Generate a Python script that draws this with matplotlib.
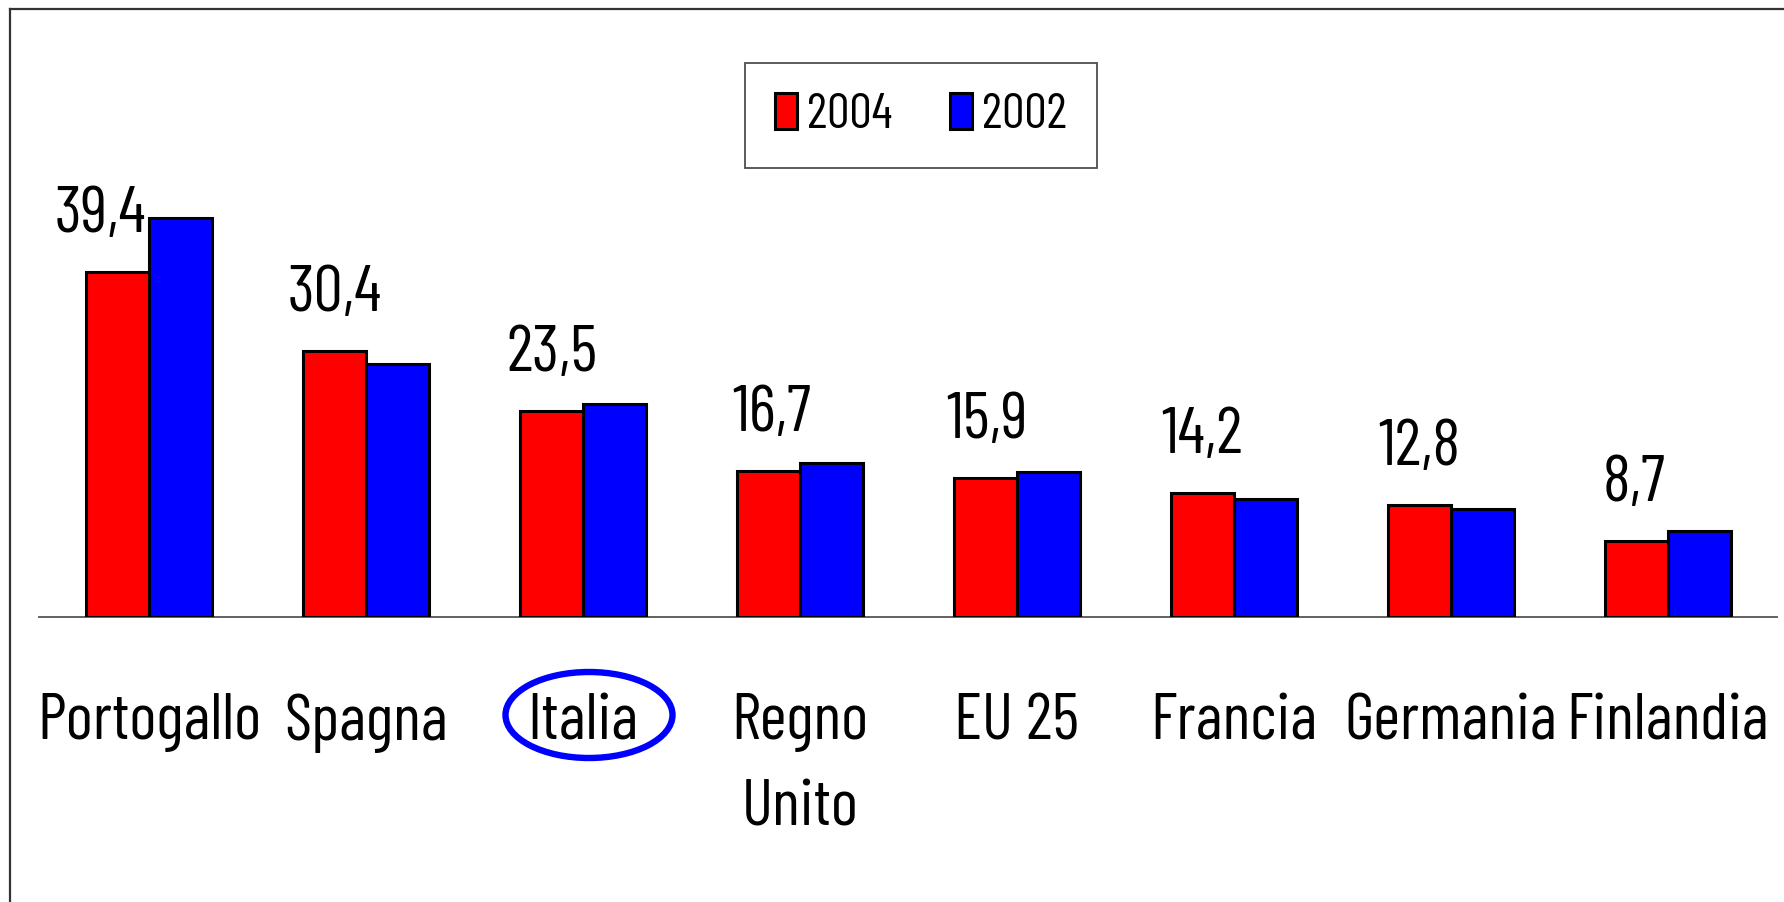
import matplotlib
matplotlib.use("Agg")
import matplotlib.pyplot as plt
from matplotlib.patches import Ellipse
from matplotlib.lines import Line2D
from matplotlib.transforms import blended_transform_factory
import numpy as np

categories = ["Portogallo", "Spagna", "Italia", "Regno\nUnito", "EU 25",
              "Francia", "Germania", "Finlandia"]
values_2004 = [39.4, 30.4, 23.5, 16.7, 15.9, 14.2, 12.8, 8.7]
values_2002 = [45.6, 28.9, 24.3, 17.6, 16.6, 13.5, 12.4, 9.8]
value_labels = ["39,4", "30,4", "23,5", "16,7", "15,9", "14,2", "12,8", "8,7"]
series_names = ["2004", "2002"]
highlight = "Italia"

plt.rcParams['font.family'] = ['Barlow Condensed', 'DejaVu Sans']

W, H = 1784, 902
fig = plt.figure(figsize=(W / 100, H / 100), dpi=100)

# axes: x from px 39 to 1777, baseline at y=617 px (from top), 8.75 px/unit
ax_left, ax_right = 39, 1777
base_y = 617
ymax = 60
ax_h = ymax * 8.75
ax = fig.add_axes([ax_left / W, (H - base_y) / H, (ax_right - ax_left) / W, ax_h / H])
ax.set_ylim(0, ymax)
unit = 217.0
xmin = -(149 - ax_left) / unit
xmax = xmin + (ax_right - ax_left) / unit
ax.set_xlim(xmin, xmax)

x = np.arange(len(categories))
bw = 63 / unit
lw = 2.2
b1 = ax.bar(x - bw / 2, values_2004, bw, color="#FF0000", edgecolor="black",
            linewidth=lw, label=series_names[0], zorder=3)
b2 = ax.bar(x + bw / 2, values_2002, bw, color="#0000FF", edgecolor="black",
            linewidth=lw, label=series_names[1], zorder=3)

for s in ["top", "right", "left"]:
    ax.spines[s].set_visible(False)
ax.spines["bottom"].set_color("#555555")
ax.spines["bottom"].set_linewidth(1.3)
ax.set_yticks([])
ax.set_xticks([])

fs = 47
label_dx = [-17, 0, 0, 3, 2, 0, 0, -2]  # px offsets
for i, (v, lab) in enumerate(zip(values_2004, value_labels)):
    ax.annotate(lab, xy=(x[i] - bw / 2, v), xytext=(label_dx[i] * 0.72, 40 * 0.72),
                textcoords="offset points", ha="center", va="baseline",
                fontsize=fs, color="black")

em_px = fs * 100 / 72
top_y = 742 - 0.75 * em_px
trans = blended_transform_factory(ax.transData, fig.transFigure)
for i, c in enumerate(categories):
    ax.text(x[i], (H - top_y) / H, c, transform=trans, ha="center", va="top",
            fontsize=fs, linespacing=1.6, color="black", clip_on=False)

# ellipse around highlighted category
hi = categories.index(highlight)
cx_disp = ax.transData.transform((x[hi], 0))[0]
cx = cx_disp / W + 6 / W
ell = Ellipse((cx, (H - 715) / H), 167 / W, 86 / H, transform=fig.transFigure,
              fill=False, edgecolor="#0000FF", linewidth=4.6, clip_on=False)
fig.add_artist(ell)

leg = fig.legend(handles=[b1, b2], labels=series_names, ncol=2,
                 loc="center", bbox_to_anchor=(921 / W, (H - 115.5) / H),
                 bbox_transform=fig.transFigure, fontsize=36, frameon=True,
                 fancybox=False, shadow=False, handlelength=0.44, handleheight=0.75,
                 handletextpad=0.2, columnspacing=1.15, borderpad=0.6,
                 borderaxespad=0)
leg.get_frame().set_edgecolor("#222222")
leg.get_frame().set_linewidth(1.3)

# outer frame (top and left only visible)
fig.add_artist(Line2D([10 / W, 1.0], [(H - 9) / H, (H - 9) / H], transform=fig.transFigure,
                      color="#333333", linewidth=1.6))
fig.add_artist(Line2D([10 / W, 10 / W], [(H - 9) / H, 0], transform=fig.transFigure,
                      color="#333333", linewidth=1.6))

fig.savefig("out.png", dpi=100, facecolor="white")
